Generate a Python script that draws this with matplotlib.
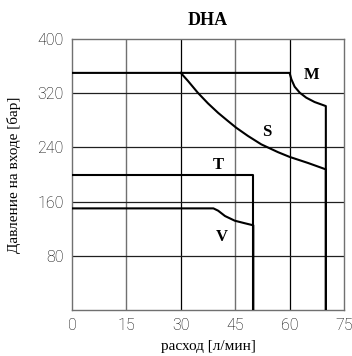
import matplotlib.pyplot as plt

# Curve data (flow l/min, pressure bar)
m_flow = [0, 60, 60.5, 61.4, 62.8, 64.6, 66.9, 70, 70]
m_pres = [350, 350, 340.5, 329.6, 320.8, 313.4, 307, 301, 0]

s_flow = [30, 32, 34.7, 37.5, 40.3, 43, 45.3, 48.5, 52.2, 56.8, 60, 65.1, 70, 70]
s_pres = [350, 338, 320.7, 305, 291, 279, 269, 257, 244.5, 233, 226, 217, 207.6, 0]

t_flow = [0, 50, 50]
t_pres = [200, 200, 0]

v_flow = [0, 39, 40.3, 42.2, 44.9, 47.7, 50, 50]
v_pres = [150, 150, 146.6, 138.7, 131.8, 128, 125, 0]

labels = ["M", "S", "T", "V"]
label_x = [66, 53.8, 40.3, 41.3]
label_y = [347, 263, 214, 108]

x_ticks = [0, 15, 30, 45, 60, 75]
y_ticks = [80, 160, 240, 320, 400]

fig = plt.figure(figsize=(3.52, 3.56), dpi=100)
ax = fig.add_axes([0.2045, 0.1292, 0.7727, 0.7612])

# Grid lines (some darker, some grey)
for x in [15, 45]:
    ax.axvline(x, color="#707070", lw=1.0, zorder=1)
for x in [30, 60]:
    ax.axvline(x, color="black", lw=0.9, zorder=1)
for y in [80, 160, 240, 320]:
    ax.axhline(y, color="#202020", lw=0.9, zorder=1)

for sp in ax.spines.values():
    sp.set_color("#707070")
    sp.set_linewidth(1.0)

for fx, py in [(m_flow, m_pres), (s_flow, s_pres), (t_flow, t_pres), (v_flow, v_pres)]:
    ax.plot(fx, py, color="black", lw=1.5, zorder=3, solid_joinstyle="round")

for lab, lx, ly in zip(labels, label_x, label_y):
    ax.text(lx, ly, lab, fontsize=12, fontweight="bold", family="Liberation Serif",
            ha="center", va="center")

ax.set_xlim(0, 75)
ax.set_ylim(0, 400)
ax.set_xticks(x_ticks)
ax.set_yticks(y_ticks)
ax.tick_params(length=0, pad=6, labelsize=11.5)
for t in ax.get_xticklabels() + ax.get_yticklabels():
    t.set_family("Roboto")
    t.set_fontweight("light")

ax.set_title("DHA", fontsize=13, fontweight="bold", family="Liberation Serif", pad=10)
ax.set_xlabel("расход [л/мин]", family="Liberation Serif", fontsize=11, labelpad=5)
ax.set_ylabel("Давление на входе [бар]", family="Liberation Serif", fontsize=11, labelpad=12)

fig.savefig("out.png", dpi=100)
